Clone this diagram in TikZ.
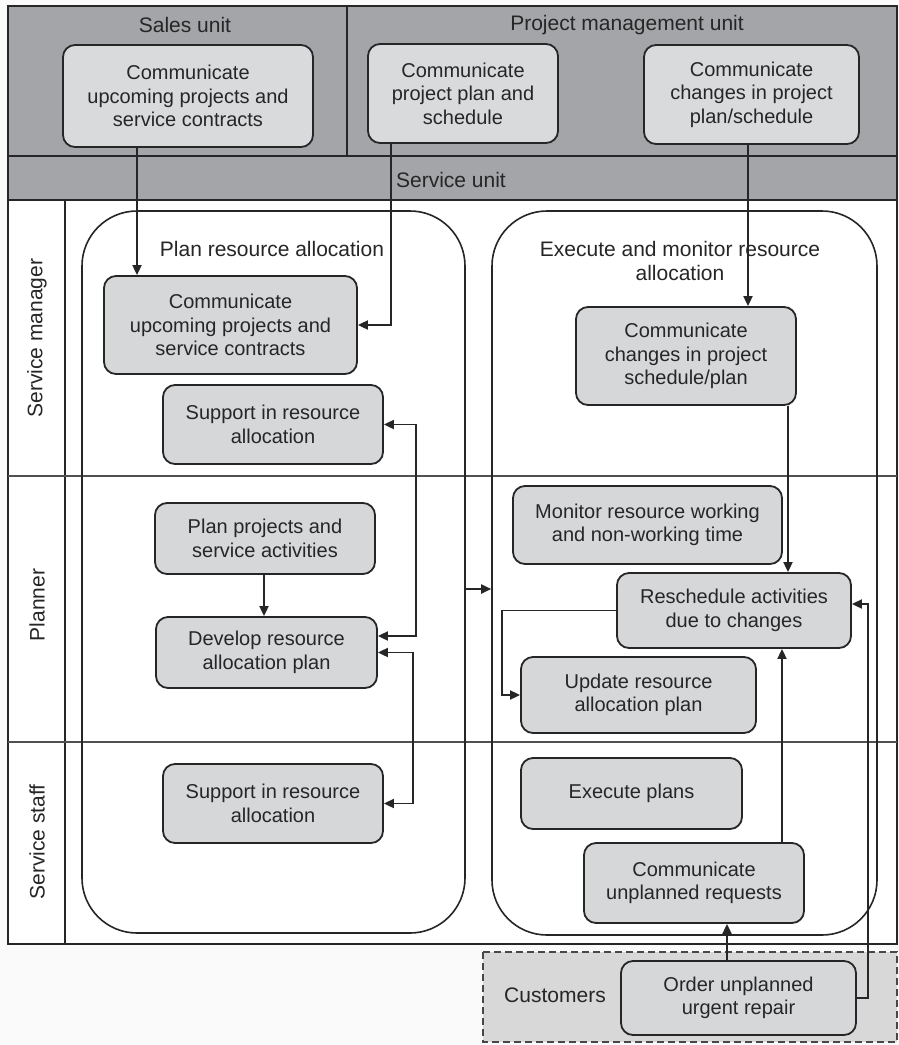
\documentclass[tikz,border=0pt]{standalone}
\usepackage{fontspec}
\setmainfont{Liberation Sans}
\usetikzlibrary{arrows.meta}
\definecolor{band}{HTML}{A4A5A8}
\definecolor{hnode}{HTML}{D9DADC}
\definecolor{lnode}{HTML}{D6D7D9}
\definecolor{ink}{HTML}{262626}
\definecolor{cust}{HTML}{D8D8D8}
\tikzset{
  frame/.style={draw=ink, line width=2pt},
  thin/.style={draw=ink!80, line width=1.3pt},
  box/.style={draw=ink, line width=1.8pt, rounded corners=12pt, align=center,
    inner sep=2pt, text=ink, font=\fontsize{20}{23.5}\selectfont},
  topbox/.style={box, fill=hnode},
  lanebox/.style={box, fill=lnode},
  group/.style={draw=ink, line width=1.6pt, rounded corners=55pt},
  lbl/.style={font=\fontsize{21}{24}\selectfont, align=center, text=ink},
  arr/.style={draw=ink, line width=1.8pt, -{Triangle[length=10pt,width=9pt]}},
  dbl/.style={draw=ink, line width=1.8pt, {Triangle[length=10pt,width=9pt]}-{Triangle[length=10pt,width=9pt]}}
}
\begin{document}
\begin{tikzpicture}[x=1pt,y=-1pt]
\useasboundingbox (0,0) rectangle (899,1045);
\fill[white!98!black] (0,0) rectangle (899,1045);
% customers region
\filldraw[fill=cust, draw=ink!85, line width=1.6pt, dashed, dash pattern=on 7pt off 4pt] (483,952) rectangle (897,1042);
% top bands
\filldraw[fill=band, frame] (8,6) rectangle (897,156);
\draw[frame] (347,6) -- (347,156);
\filldraw[fill=band, frame] (8,156) rectangle (897,200);
% lanes
\filldraw[fill=white, frame] (8,200) rectangle (897,944);
\draw[frame] (65,200) -- (65,944);
\draw[thin] (8,476) -- (897,476);
\draw[thin] (8,742) -- (897,742);
% header labels
\node[lbl] (hsales) at (185,25) {Sales unit};
\node[lbl] (hpm) at (627,25) {Project management unit};
\node[lbl] (hsu) at (451,180) {Service unit};
% lane labels
\node[lbl, rotate=90] (lsm) at (37,338) {Service manager};
\node[lbl, rotate=90] (lpl) at (37,605) {Planner};
\node[lbl, rotate=90] (lss) at (37,842) {Service staff};
% groups
\node[group, minimum width=383pt, minimum height=722pt] (lg) at (273.5,572) {};
\node[group, minimum width=385pt, minimum height=724pt] (rg) at (684.5,573) {};
\node[lbl] (lgl) at (272,249) {Plan resource allocation};
\node[lbl] (rgl) at (680,261) {Execute and monitor resource\\allocation};
\node[lbl] (custl) at (555,995) {Customers};
% top boxes
\node[topbox, minimum width=250pt, minimum height=102pt] (sales) at (188,96) {Communicate\\upcoming projects and\\service contracts};
\node[topbox, minimum width=190pt, minimum height=99pt] (pm1) at (463,93.5) {Communicate\\project plan and\\schedule};
\node[topbox, minimum width=215pt, minimum height=99pt] (pm2) at (751.5,94.5) {Communicate\\changes in project\\plan/schedule};
% left group boxes
\node[lanebox, minimum width=253pt, minimum height=98pt] (cup) at (230.5,325) {Communicate\\upcoming projects and\\service contracts};
\node[lanebox, minimum width=220pt, minimum height=79pt] (sup1) at (273,424.5) {Support in resource\\allocation};
\node[lanebox, minimum width=220pt, minimum height=71pt] (plp) at (265,538.5) {Plan projects and\\service activities};
\node[lanebox, minimum width=221pt, minimum height=71pt] (dev) at (266.5,652.5) {Develop resource\\allocation plan};
\node[lanebox, minimum width=220pt, minimum height=79pt] (sup2) at (273,803.5) {Support in resource\\allocation};
% right group boxes
\node[lanebox, minimum width=220pt, minimum height=98pt] (cch) at (686,356) {Communicate\\changes in project\\schedule/plan};
\node[lanebox, minimum width=269pt, minimum height=78pt] (mon) at (647.5,525) {Monitor resource working\\and non-working time};
\node[lanebox, minimum width=234pt, minimum height=75pt] (res) at (734,610.5) {Reschedule activities\\due to changes};
\node[lanebox, minimum width=235pt, minimum height=76pt] (upd) at (638.5,695) {Update resource\\allocation plan};
\node[lanebox, minimum width=221pt, minimum height=71pt] (exe) at (631.5,793.5) {Execute plans};
\node[lanebox, minimum width=220pt, minimum height=80pt] (cun) at (694,883) {Communicate\\unplanned requests};
\node[lanebox, minimum width=235pt, minimum height=74pt] (ord) at (738.5,998) {Order unplanned\\urgent repair};
% helper coordinates
\coordinate (c137) at (137,0);
\coordinate (c391) at (391,0);
\coordinate (c748) at (748,0);
\coordinate (c264) at (264,0);
\coordinate (c788) at (788,0);
\coordinate (c782) at (782,0);
\coordinate (c727) at (727,0);
\coordinate (p416) at (416,636);
\coordinate (p413) at (413,803.5);
\coordinate (y589) at (0,589);
\coordinate (p502) at (502,695);
\coordinate (p868) at (868,604);
% connectors
\draw[arr] (sales.south -| c137) -- (cup.north -| c137);
\draw[arr] (pm1.south -| c391) |- (cup.east);
\draw[arr] (pm2.south -| c748) -- (cch.north -| c748);
\draw[dbl] (sup1.east) -| (p416) -- (dev.east |- p416);
\draw[dbl] (dev.east) -| (p413) -- (sup2.east);
\draw[arr] (plp.south -| c264) -- (dev.north -| c264);
\draw[arr] (lg.east |- y589) -- (rg.west |- y589);
\draw[arr] (cch.south -| c788) -- (res.north -| c788);
\draw[arr] (res.west) -| (p502) -- (upd.west);
\draw[arr] (cun.north -| c782) -- (res.south -| c782);
\draw[arr] (ord.north -| c727) -- (cun.south -| c727);
\draw[arr] (ord.east) -| (p868) -- (res.east |- p868);
\end{tikzpicture}
\end{document}
